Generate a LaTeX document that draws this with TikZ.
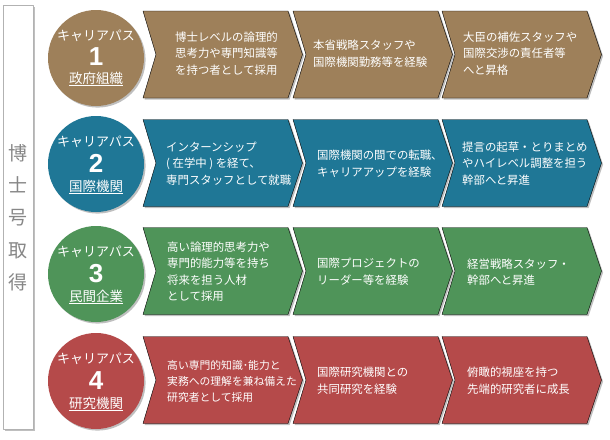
\documentclass[tikz,border=0pt]{standalone}
\usepackage{fontspec}
\setmainfont{Noto Sans CJK JP}
\newfontfamily\numfont{Liberation Sans}
\usetikzlibrary{shadows}
\definecolor{pathbrown}{RGB}{158,128,90}
\definecolor{pathblue}{RGB}{31,119,150}
\definecolor{pathgreen}{RGB}{79,148,89}
\definecolor{pathred}{RGB}{181,74,74}
\definecolor{sidegray}{RGB}{135,135,135}
\tikzset{
  shade/.style={drop shadow={shadow xshift=1.6pt,shadow yshift=-1.6pt,opacity=0.5}},
  chevron/.style={fill=#1,shade},
  badge/.style={circle,fill=#1,minimum size=96pt,inner sep=0pt,shade},
  stepnote/.style={anchor=west,align=left,inner sep=0pt,text=white,font=\fontsize{11.4}{16.5}\selectfont},
  badgehead/.style={inner sep=0pt,text=white,font=\fontsize{13}{13}\selectfont},
  badgenum/.style={inner sep=0pt,text=white,font=\numfont\bfseries\fontsize{26}{26}\selectfont},
  badgeorg/.style={inner sep=0pt,text=white,font=\fontsize{13.5}{13.5}\selectfont}
}

\begin{document}
\begin{tikzpicture}[line cap=round,line join=round,x=1pt,y=-1pt]
\useasboundingbox (0,0) rectangle (610,439);
% left bar
\draw [draw=black!30,fill=white,shade] (3,5) rectangle (33,429);
\node [inner sep=0pt,align=center,text=sidegray,font=\fontsize{19}{32.3}\selectfont] (degree) at (18,217.5) {博\\士\\号\\取\\得};
% chevrons
\foreach \c/\col in {54.5/pathbrown,163/pathblue,271/pathgreen,380/pathred}
  \foreach \x in {143,293,442}
    \draw [chevron=\col] (\x,\c-43.5)--(\x+145,\c-43.5)--(\x+159.5,\c)--(\x+145,\c+43.5)--(\x,\c+43.5)--(\x+13,\c)--cycle;
% badges
\node [badge=pathbrown] (circ1) at (96,58) {};
\node [badge=pathblue] (circ2) at (96,164) {};
\node [badge=pathgreen] (circ3) at (96,274) {};
\node [badge=pathred] (circ4) at (96,381) {};
\node [badgehead] (head1) at (96,35.5) {キャリアパス};
\node [badgenum] (num1) at (96,56.5) {1};
\node [badgeorg] (org1) at (96,79) {\underline{政府組織}};
\node [badgehead] (head2) at (96,141.5) {キャリアパス};
\node [badgenum] (num2) at (96,163.5) {2};
\node [badgeorg] (org2) at (96,187) {\underline{国際機関}};
\node [badgehead] (head3) at (96,251.5) {キャリアパス};
\node [badgenum] (num3) at (96,273.5) {3};
\node [badgeorg] (org3) at (96,297) {\underline{民間企業}};
\node [badgehead] (head4) at (96,358.5) {キャリアパス};
\node [badgenum] (num4) at (96,380.5) {4};
\node [badgeorg] (org4) at (96,404) {\underline{研究機関}};
% row 1
\node [stepnote] (t11) at (175,53.5) {博士レベルの論理的\\思考力や専門知識等\\を持つ者として採用};
\node [stepnote] (t12) at (313,53.5) {本省戦略スタッフや\\国際機関勤務等を経験};
\node [stepnote] (t13) at (463,53.5) {大臣の補佐スタッフや\\国際交渉の責任者等\\へと昇格};
% row 2
\node [stepnote] (t21) at (166,163.5) {インターンシップ\\( 在学中 ) を経て、\\専門スタッフとして就職};
\node [stepnote] (t22) at (317,163.5) {国際機関の間での転職、\\キャリアアップを経験};
\node [stepnote] (t23) at (462,163.5) {提言の起草・とりまとめ\\やハイレベル調整を担う\\幹部へと昇進};
% row 3
\node [stepnote] (t31) at (167,271.5) {高い論理的思考力や\\専門的能力等を持ち\\将来を担う人材\\として採用};
\node [stepnote] (t32) at (317,271.5) {国際プロジェクトの\\リーダー等を経験};
\node [stepnote] (t33) at (467,272) {経営戦略スタッフ・\\幹部へと昇進};
% row 4
\node [stepnote,font=\fontsize{10.8}{16}\selectfont] (t41) at (167,381) {高い専門的知識･能力と\\実務への理解を兼ね備えた\\研究者として採用};
\node [stepnote] (t42) at (317,380.5) {国際研究機関との\\共同研究を経験};
\node [stepnote] (t43) at (467,380.5) {俯瞰的視座を持つ\\先端的研究者に成長};
\end{tikzpicture}
\end{document}
